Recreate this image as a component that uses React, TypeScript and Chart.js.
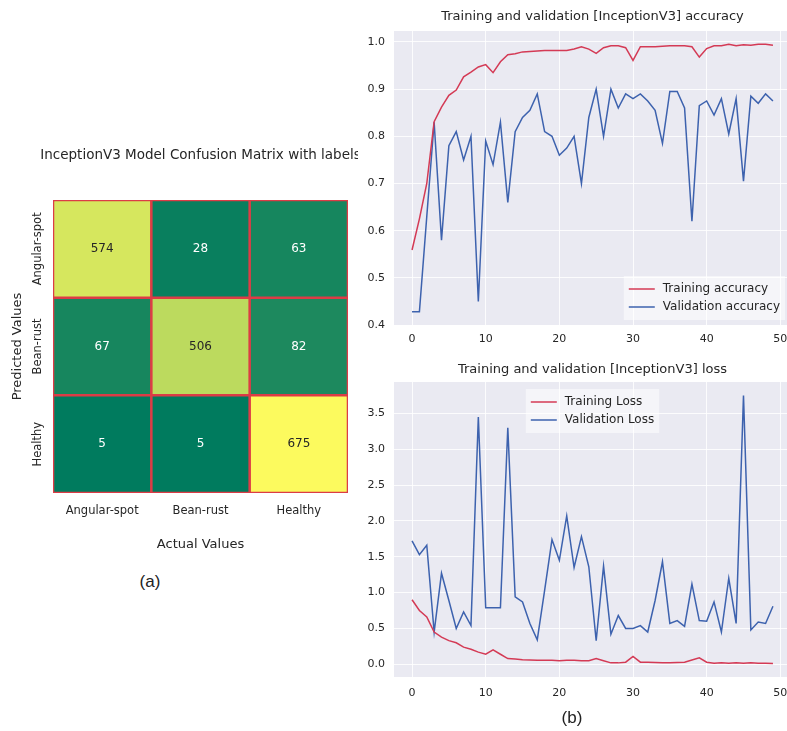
import React, { useEffect, useRef } from "react";
import { Chart, registerables } from "chart.js";
Chart.register(...registerables);

// ---------- data ----------
const classLabels = ["Angular-spot", "Bean-rust", "Healthy"];
const cmAngularSpot = [574, 28, 63];
const cmBeanRust = [67, 506, 82];
const cmHealthy = [5, 5, 675];
const cmRows = [cmAngularSpot, cmBeanRust, cmHealthy];

const epochs = [
  0, 1, 2, 3, 4, 5, 6, 7, 8, 9, 10, 11, 12, 13, 14, 15, 16, 17, 18, 19, 20, 21, 22, 23, 24,
  25, 26, 27, 28, 29, 30, 31, 32, 33, 34, 35, 36, 37, 38, 39, 40, 41, 42, 43, 44, 45, 46, 47, 48, 49,
];
const trainAcc = [
  0.559, 0.625, 0.70, 0.831, 0.862, 0.887, 0.898, 0.926, 0.936, 0.947,
  0.952, 0.935, 0.958, 0.973, 0.975, 0.979, 0.98, 0.981, 0.982, 0.982,
  0.982, 0.982, 0.985, 0.99, 0.985, 0.976, 0.988, 0.992, 0.992, 0.988,
  0.961, 0.99, 0.99, 0.99, 0.991, 0.992, 0.992, 0.992, 0.99, 0.968,
  0.986, 0.992, 0.992, 0.995, 0.992, 0.994, 0.993, 0.995, 0.995, 0.993,
];
const valAcc = [
  0.428, 0.428, 0.63, 0.83, 0.58, 0.78, 0.81, 0.75, 0.80, 0.45,
  0.79, 0.74, 0.83, 0.66, 0.81, 0.84, 0.855, 0.89, 0.81, 0.80,
  0.76, 0.775, 0.80, 0.70, 0.84, 0.90, 0.80, 0.90, 0.86, 0.89,
  0.88, 0.89, 0.875, 0.855, 0.785, 0.895, 0.895, 0.86, 0.62, 0.865,
  0.875, 0.845, 0.88, 0.805, 0.88, 0.705, 0.885, 0.87, 0.89, 0.875,
];
const trainLoss = [
  0.90, 0.75, 0.66, 0.45, 0.38, 0.33, 0.30, 0.24, 0.21, 0.17,
  0.14, 0.20, 0.14, 0.08, 0.075, 0.065, 0.06, 0.055, 0.055, 0.055,
  0.05, 0.055, 0.055, 0.05, 0.05, 0.08, 0.05, 0.02, 0.02, 0.03,
  0.11, 0.03, 0.03, 0.025, 0.02, 0.02, 0.025, 0.03, 0.06, 0.09,
  0.03, 0.015, 0.02, 0.015, 0.02, 0.015, 0.02, 0.015, 0.015, 0.01,
];
const valLoss = [
  1.72, 1.53, 1.66, 0.45, 1.27, 0.89, 0.50, 0.73, 0.54, 3.45,
  0.79, 0.79, 0.79, 3.30, 0.94, 0.87, 0.57, 0.34, 1.03, 1.74,
  1.45, 2.07, 1.35, 1.78, 1.36, 0.33, 1.37, 0.42, 0.68, 0.50,
  0.50, 0.54, 0.45, 0.89, 1.43, 0.57, 0.61, 0.53, 1.12, 0.61,
  0.60, 0.87, 0.45, 1.20, 0.57, 3.75, 0.48, 0.59, 0.57, 0.81,
];
const epochTicks = [0, 10, 20, 30, 40, 50];
const accTicks = [0.4, 0.5, 0.6, 0.7, 0.8, 0.9, 1.0];
const lossTicks = [0, 0.5, 1.0, 1.5, 2.0, 2.5, 3.0, 3.5];

const heatmapTitle = "InceptionV3 Model Confusion Matrix with labels";

// ---------- styles ----------
const FONT = "'DejaVu Sans', 'Liberation Sans', sans-serif";
const TXT = "#262626";
const RED = "#d43a55";
const BLUE = "#3d62ae";
const PLOT_BG = "#eaeaf2";
const CELL_BORDER = "#dc3c46";

const allCm = cmRows.flat();
const vmin = Math.min(...allCm);
const vmax = Math.max(...allCm);
function summer(v: number) {
  const t = (v - vmin) / (vmax - vmin);
  return `rgb(${Math.round(252 * t)}, ${Math.round(250 * (0.49 + 0.51 * t))}, 94)`;
}

const bgPlugin = {
  id: "plotBg",
  beforeDraw(chart: any) {
    const { ctx, chartArea: a } = chart;
    ctx.save();
    ctx.fillStyle = PLOT_BG;
    ctx.fillRect(a.left, a.top, a.right - a.left, a.bottom - a.top);
    ctx.restore();
  },
};

function boxLegend(items: { label: string; color: string }[], place: "lowerRight" | "upperCenter") {
  return {
    id: "boxLegend",
    afterDatasetsDraw(chart: any) {
      const { ctx, chartArea: a } = chart;
      ctx.save();
      ctx.font = `12px ${FONT}`;
      const tw = Math.max(...items.map((it) => ctx.measureText(it.label).width));
      const padL = 5, lineLen = 26, gap = 8, padR = 5, padT = 4, rowH = 18;
      const w = padL + lineLen + gap + tw + padR;
      const h = padT * 2 + rowH * items.length;
      let x0: number, y0: number;
      if (place === "lowerRight") {
        x0 = a.right - 6 - w;
        y0 = a.bottom - 5 - h;
      } else {
        x0 = (a.left + a.right) / 2 - w / 2;
        y0 = a.top + 7;
      }
      ctx.fillStyle = "rgba(255,255,255,0.5)";
      ctx.fillRect(x0, y0, w, h);
      items.forEach((it, i) => {
        const cy = y0 + padT + rowH * i + rowH / 2;
        ctx.strokeStyle = it.color;
        ctx.lineWidth = 1.5;
        ctx.beginPath();
        ctx.moveTo(x0 + padL, cy);
        ctx.lineTo(x0 + padL + lineLen, cy);
        ctx.stroke();
        ctx.fillStyle = TXT;
        ctx.textAlign = "left";
        ctx.textBaseline = "middle";
        ctx.fillText(it.label, x0 + padL + lineLen + gap, cy);
      });
      ctx.restore();
    },
  };
}

const cellTextPlugin = {
  id: "cellText",
  afterDatasetsDraw(chart: any) {
    const { ctx } = chart;
    ctx.save();
    ctx.font = `12px ${FONT}`;
    ctx.textAlign = "center";
    ctx.textBaseline = "middle";
    cmRows.forEach((row, r) => {
      const meta = chart.getDatasetMeta(r);
      meta.data.forEach((bar: any, c: number) => {
        const v = row[c];
        const t = (v - vmin) / (vmax - vmin);
        ctx.fillStyle = t > 0.5 ? TXT : "#ffffff";
        ctx.fillText(String(v), bar.x, (bar.y + bar.base) / 2);
      });
    });
    ctx.restore();
  },
};

const yRotLabels = {
  id: "yRotLabels",
  afterDraw(chart: any) {
    const { ctx } = chart;
    const ys = chart.scales.y;
    ctx.save();
    ctx.font = `11.5px ${FONT}`;
    ctx.fillStyle = TXT;
    ctx.textAlign = "center";
    ctx.textBaseline = "middle";
    classLabels.forEach((lab, i) => {
      const py = ys.getPixelForValue(i + 0.5);
      ctx.save();
      ctx.translate(ys.right - 15, py);
      ctx.rotate(-Math.PI / 2);
      ctx.fillText(lab, 0, 0);
      ctx.restore();
    });
    ctx.restore();
  },
};

// title drawn without width squeezing, centred over the cells
const freeTitle = {
  id: "freeTitle",
  afterDraw(chart: any) {
    const { ctx, chartArea: a } = chart;
    ctx.save();
    ctx.font = `13.5px ${FONT}`;
    ctx.fillStyle = TXT;
    ctx.textAlign = "center";
    ctx.textBaseline = "middle";
    ctx.fillText(heatmapTitle, (a.left + a.right) / 2, a.top - 45);
    ctx.restore();
  },
};

function heatmapConfig(): any {
  return {
    type: "bar",
    data: {
      labels: classLabels,
      datasets: cmRows.map((row, r) => ({
        label: classLabels[r],
        data: row.map(() => [r, r + 1]),
        backgroundColor: row.map((v) => summer(v)),
        borderColor: CELL_BORDER,
        borderWidth: 1.6,
        borderSkipped: false,
        grouped: false,
        categoryPercentage: 1,
        barPercentage: 1,
      })),
    },
    options: {
      responsive: false,
      animation: false,
      devicePixelRatio: 1,
      layout: { padding: { left: 0, right: 10, top: 70, bottom: 0 } },
      plugins: {
        legend: { display: false },
        tooltip: { enabled: false },
        title: { display: false },
      },
      scales: {
        x: {
          grid: { display: false, drawTicks: false },
          border: { display: false },
          ticks: { color: TXT, font: { family: FONT, size: 11.5 }, padding: 11 },
          title: {
            display: true,
            text: "Actual Values",
            color: TXT,
            font: { family: FONT, size: 13 },
            padding: { top: 0, bottom: 7.8 },
          },
          afterFit: (s: any) => {
            s.height = 67;
          },
        },
        y: {
          type: "linear",
          min: 0,
          max: 3,
          reverse: true,
          grid: { display: false, drawTicks: false },
          border: { display: false },
          ticks: { display: false },
          title: {
            display: true,
            text: "Predicted Values",
            color: TXT,
            font: { family: FONT, size: 13 },
            padding: { top: 10.2, bottom: 0 },
          },
          afterFit: (s: any) => {
            s.width = 53;
          },
        },
      },
    },
    plugins: [cellTextPlugin, yRotLabels, freeTitle],
  };
}

function lineConfig(opts: {
  title: string;
  titlePad: { top: number; bottom: number };
  series: { label: string; values: number[]; color: string }[];
  yMin: number;
  yMax: number;
  yTicks: number[];
  xAxisHeight: number;
  xPad: number;
  legendPlace: "lowerRight" | "upperCenter";
}): any {
  const grid = { color: "rgba(255,255,255,0.85)", lineWidth: 1, drawTicks: false };
  return {
    type: "line",
    data: {
      datasets: opts.series.map((s) => ({
        label: s.label,
        data: epochs.map((e, i) => ({ x: e, y: s.values[i] })),
        borderColor: s.color,
        backgroundColor: s.color,
        borderWidth: 1.5,
        pointRadius: 0,
        tension: 0,
        fill: false,
      })),
    },
    options: {
      responsive: false,
      animation: false,
      devicePixelRatio: 1,
      layout: { padding: { left: 0, right: 9, top: 0, bottom: 0 } },
      plugins: {
        legend: { display: false },
        tooltip: { enabled: false },
        title: {
          display: true,
          text: opts.title,
          fullSize: false,
          color: TXT,
          font: { family: FONT, size: 13, weight: "normal" },
          padding: opts.titlePad,
        },
      },
      scales: {
        x: {
          type: "linear",
          min: -2.45,
          max: 51.45,
          afterBuildTicks: (s: any) => {
            s.ticks = epochTicks.map((v) => ({ value: v }));
          },
          grid,
          border: { display: false },
          ticks: {
            color: TXT,
            font: { family: FONT, size: 11 },
            padding: opts.xPad,
            maxRotation: 0,
            autoSkip: false,
            callback: (v: any) => String(v),
          },
          afterFit: (s: any) => {
            s.height = opts.xAxisHeight;
          },
        },
        y: {
          type: "linear",
          min: opts.yMin,
          max: opts.yMax,
          afterBuildTicks: (s: any) => {
            s.ticks = opts.yTicks.map((v) => ({ value: v }));
          },
          grid,
          border: { display: false },
          ticks: {
            color: TXT,
            font: { family: FONT, size: 11 },
            padding: 9,
            autoSkip: false,
            callback: (v: any) => Number(v).toFixed(1),
          },
          afterFit: (s: any) => {
            s.width = 34;
          },
        },
      },
    },
    plugins: [
      bgPlugin,
      boxLegend(
        opts.series.map((s) => ({ label: s.label, color: s.color })),
        opts.legendPlace
      ),
    ],
  };
}

function ChartCanvas({
  left,
  top,
  width,
  height,
  makeConfig,
}: {
  left: number;
  top: number;
  width: number;
  height: number;
  makeConfig: () => any;
}) {
  const ref = useRef<HTMLCanvasElement | null>(null);
  useEffect(() => {
    if (!ref.current) return;
    const chart = new Chart(ref.current, makeConfig());
    return () => chart.destroy();
  }, []);
  return (
    <canvas
      ref={ref}
      width={width}
      height={height}
      style={{ position: "absolute", left, top, width, height }}
    />
  );
}

export default function App() {
  const panelLabel: React.CSSProperties = {
    position: "absolute",
    fontFamily: "'Liberation Sans', Arial, sans-serif",
    fontSize: 17,
    color: "#222",
    lineHeight: "20px",
    transform: "translate(-50%, -50%)",
    whiteSpace: "nowrap",
  };
  return (
    <div
      style={{
        position: "absolute",
        left: 0,
        top: 0,
        width: 787,
        height: 731,
        overflow: "hidden",
        background: "#ffffff",
      }}
    >
      <ChartCanvas left={0} top={130} width={358} height={430} makeConfig={heatmapConfig} />
      <ChartCanvas
        left={360}
        top={0}
        width={440}
        height={355}
        makeConfig={() =>
          lineConfig({
            title: "Training and validation [InceptionV3] accuracy",
            titlePad: { top: 9.2, bottom: 6.2 },
            series: [
              { label: "Training accuracy", values: trainAcc, color: RED },
              { label: "Validation accuracy", values: valAcc, color: BLUE },
            ],
            yMin: 0.4,
            yMax: 1.0233,
            yTicks: accTicks,
            xAxisHeight: 30,
            xPad: 8,
            legendPlace: "lowerRight",
          })
        }
      />
      <ChartCanvas
        left={360}
        top={355}
        width={440}
        height={376}
        makeConfig={() =>
          lineConfig({
            title: "Training and validation [InceptionV3] loss",
            titlePad: { top: 7.2, bottom: 4.2 },
            series: [
              { label: "Training Loss", values: trainLoss, color: RED },
              { label: "Validation Loss", values: valLoss, color: BLUE },
            ],
            yMin: -0.177,
            yMax: 3.937,
            yTicks: lossTicks,
            xAxisHeight: 54,
            xPad: 9.5,
            legendPlace: "upperCenter",
          })
        }
      />
      <div style={{ ...panelLabel, left: 150, top: 582 }}>(a)</div>
      <div style={{ ...panelLabel, left: 572, top: 718 }}>(b)</div>
    </div>
  );
}
